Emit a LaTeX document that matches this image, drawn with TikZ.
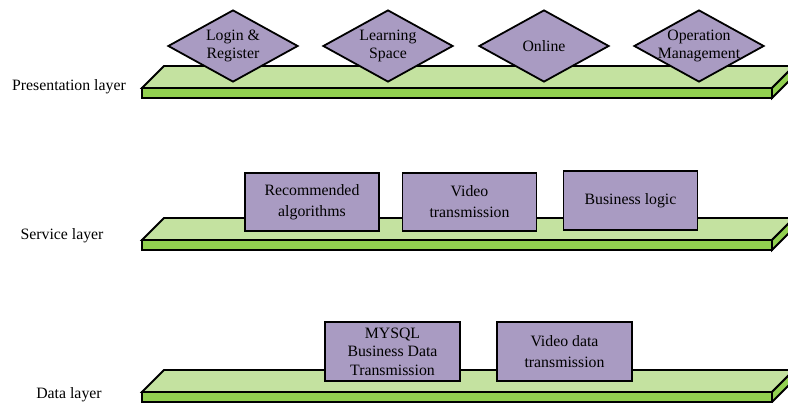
\documentclass[tikz,border=0pt]{standalone}
\usepackage{fontspec}
\setmainfont{Liberation Serif}
\usetikzlibrary{shapes.geometric}
\definecolor{slabtop}{HTML}{C4E2A0}
\definecolor{slabfront}{HTML}{92D050}
\definecolor{unitfill}{HTML}{A99BC2}
\tikzset{
  outline/.style={draw=black, line width=1.8pt, line join=miter},
  lbl/.style={font=\fontsize{15.8}{18.5}\selectfont, align=center, inner sep=0pt},
  boxlbl/.style={font=\fontsize{15.8}{21}\selectfont, align=center, inner sep=0pt},
  dia/.style={diamond, outline, fill=unitfill, minimum width=130pt, minimum height=72pt, inner sep=0pt},
  unitbox/.style={rectangle, outline, fill=unitfill, minimum width=134pt, minimum height=58pt, inner sep=0pt},
  layername/.style={font=\fontsize{15.8}{18}\selectfont, inner sep=0pt},
  slab/.pic={
    \filldraw[outline, fill=slabtop] (164,0) -- (794,0) -- (772,22) -- (142,22) -- cycle;
    \filldraw[outline, fill=slabfront] (142,22) rectangle (772,32);
    \filldraw[outline, fill=slabfront] (772,22) -- (794,0) -- (794,10) -- (772,32) -- cycle;
  }
}
\begin{document}
\begin{tikzpicture}[x=1pt, y=-1pt]
\useasboundingbox (0,0) rectangle (788,403);
\clip (0,0) rectangle (788,403);
\fill[white] (0,0) rectangle (788,403);

% presentation layer
\pic at (0,66) {slab};
\node[layername] (lp) at (69,87) {Presentation layer};
\node[dia] (d1) at (233,46) {};
\node[lbl] (t1) at (d1) {Login \&\\Register};
\node[dia] (d2) at (388,46) {};
\node[lbl] (t2) at (d2) {Learning\\Space};
\node[dia] (d3) at (544,46) {};
\node[lbl] (t3) at (d3) {Online};
\node[dia] (d4) at (699,46) {};
\node[lbl] (t4) at (d4) {Operation\\Management};

% service layer
\pic at (0,218) {slab};
\node[layername] (ls) at (62,236) {Service layer};
\node[unitbox] (s1) at (312,202) {};
\node[boxlbl] (u1) at (s1) {Recommended\\algorithms};
\node[unitbox] (s2) at (469.5,202) {};
\node[boxlbl] (u2) at (s2) {Video\\transmission};
\node[unitbox, minimum height=59pt] (s3) at (630.5,200.5) {};
\node[boxlbl] (u3) at (s3) {Business logic};

% data layer
\pic at (0,370) {slab};
\node[layername] (ld) at (69,395) {Data layer};
\node[unitbox, minimum width=135pt, minimum height=59pt] (b1) at (392.5,351.5) {};
\node[lbl] (v1) at (b1) {MYSQL\\Business Data\\Transmission};
\node[unitbox, minimum width=135pt, minimum height=59pt] (b2) at (564.5,351.5) {};
\node[boxlbl] (v2) at (b2) {Video data\\transmission};
\end{tikzpicture}
\end{document}
